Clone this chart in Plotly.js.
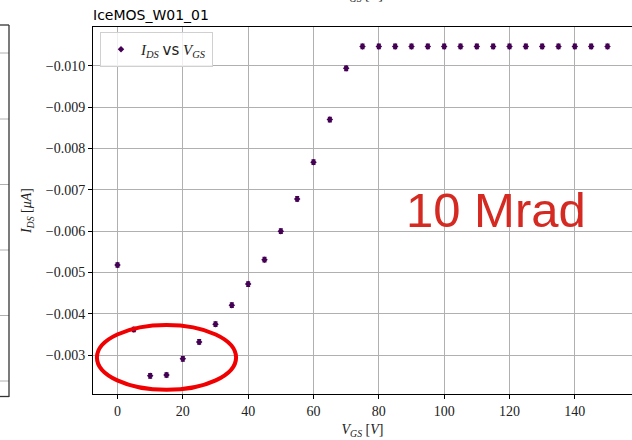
<!DOCTYPE html>
<html>
<head>
<meta charset="utf-8">
<script src="https://cdn.plot.ly/plotly-3.0.1.min.js"></script>
<style>html,body{margin:0;padding:0;background:#fff;}#chart{width:632px;height:440px;}</style>
</head>
<body>
<div id="chart"></div>
<script>
// V_GS values [V]
const vgs = [0, 5, 10, 15, 20, 25, 30, 35, 40, 45, 50, 55, 60, 65, 70,
             75, 80, 85, 90, 95, 100, 105, 110, 115, 120, 125, 130, 135, 140, 145, 150];
// I_DS values [uA]
const ids = [-0.00518, -0.00362, -0.00250, -0.00252, -0.00291, -0.00332, -0.00375, -0.00421,
             -0.00472, -0.00531, -0.00600, -0.00678, -0.00767, -0.00870, -0.00994,
             -0.01047, -0.01047, -0.01047, -0.01047, -0.01047, -0.01047, -0.01047, -0.01047,
             -0.01047, -0.01047, -0.01047, -0.01047, -0.01047, -0.01047, -0.01047, -0.01047];
// I_DS uncertainty [uA]
const idsErr = [0.00005, 0.00005, 0.00005, 0.00005, 0.00005, 0.00005, 0.00005, 0.00005,
                0.00005, 0.00005, 0.00005, 0.00005, 0.00005, 0.00005, 0.00005,
                0.00005, 0.00005, 0.00005, 0.00005, 0.00005, 0.00005, 0.00005, 0.00005,
                0.00005, 0.00005, 0.00005, 0.00005, 0.00005, 0.00005, 0.00005, 0.00005];
const xTicks = [0, 20, 40, 60, 80, 100, 120, 140];
const yTicks = [-0.010, -0.009, -0.008, -0.007, -0.006, -0.005, -0.004, -0.003];

const purple = '#440154';
const serif = 'Liberation Serif, serif';
const sans = 'DejaVu Sans, sans-serif';

const trace = {
  x: vgs, y: ids, type: 'scatter', mode: 'markers',
  name: '<i>I</i><sub><i>DS</i></sub> <span style="font-family:DejaVu Sans">vs</span> <i>V</i><sub><i>GS</i></sub>',
  marker: {symbol: 'diamond', size: 5, color: purple},
  error_y: {type: 'data', array: idsErr, visible: true, color: purple, thickness: 1.5, width: 2}
};

function py(p) { return (394 - p) / 367; }
function px(p) { return (p - 93) / 539; }

const gray = '#b0b0b0';
const shapes = [
  // red ellipse highlight
  {type: 'circle', xref: 'x', yref: 'y', x0: -6.3, x1: 36.3, y0: -0.00373, y1: -0.00216,
   line: {color: '#f00000', width: 4}, layer: 'above'},
];
// neighbouring panel fragment on the left edge
[53, 119, 184.5, 250, 315.5, 381].forEach(p => {
  shapes.push({type: 'line', xref: 'paper', yref: 'paper', x0: px(0), x1: px(9), y0: py(p), y1: py(p),
               line: {color: gray, width: 1}});
});
shapes.push({type: 'line', xref: 'paper', yref: 'paper', x0: px(9), x1: px(9), y0: py(25), y1: py(397),
             line: {color: '#333', width: 1.3}});
shapes.push({type: 'line', xref: 'paper', yref: 'paper', x0: px(0), x1: px(9), y0: py(25), y1: py(25),
             line: {color: '#333', width: 1.3}});
shapes.push({type: 'line', xref: 'paper', yref: 'paper', x0: px(0), x1: px(9), y0: py(396.5), y1: py(396.5),
             line: {color: '#333', width: 1.3}});

const layout = {
  width: 632, height: 440,
  margin: {l: 93, r: 0, t: 27, b: 46},
  paper_bgcolor: '#fff', plot_bgcolor: '#fff',
  showlegend: true,
  title: {text: 'IceMOS_W01_01', font: {family: sans, size: 14, color: '#000'},
          x: 93/632, xanchor: 'left', xref: 'container', y: 1 - 15/440, yanchor: 'middle', yref: 'container'},
  xaxis: {
    range: [-7.5, 157.5], tickvals: xTicks, ticktext: xTicks.map(String),
    showgrid: true, gridcolor: gray, gridwidth: 1, zeroline: false,
    showline: true, mirror: true, linecolor: '#000', linewidth: 1,
    ticks: 'outside', ticklen: 4, tickcolor: '#000', tickwidth: 1,
    tickfont: {family: serif, size: 14, color: '#222'},
    title: {text: '<i>V</i><sub><i>GS</i></sub> [<i>V</i>]', font: {family: serif, size: 14, color: '#222'}, standoff: 6}
  },
  yaxis: {
    range: [-0.00206, -0.01094], tickvals: yTicks, tickformat: '.3f',
    showgrid: true, gridcolor: gray, gridwidth: 1, zeroline: false,
    showline: true, mirror: true, linecolor: '#000', linewidth: 1,
    ticks: 'outside', ticklen: 4, tickcolor: '#000', tickwidth: 1,
    tickfont: {family: serif, size: 14, color: '#222'},
    title: {text: '<i>I</i><sub><i>DS</i></sub> [<i>μA</i>]', font: {family: serif, size: 14, color: '#222'}, standoff: 10}
  },
  legend: {x: px(100), y: py(32), xanchor: 'left', yanchor: 'top',
           bgcolor: 'rgba(255,255,255,0.8)', bordercolor: '#d0d0d0', borderwidth: 1,
           font: {family: serif, size: 15, color: '#222'}},
  shapes: shapes,
  annotations: [
    {text: '10 Mrad', xref: 'x', yref: 'y', x: 115.9, y: -0.00652, xanchor: 'center', yanchor: 'middle',
     showarrow: false, font: {family: 'Liberation Sans, sans-serif', size: 49, color: '#d42a22'}},
    {text: '<i>V</i><sub><i>GS</i></sub> [<i>V</i>]', xref: 'paper', yref: 'paper', x: px(362), y: py(-5),
     xanchor: 'center', yanchor: 'middle', showarrow: false, font: {family: serif, size: 14, color: '#222'}}
  ]
};

Plotly.newPlot('chart', [trace], layout, {staticPlot: true, displayModeBar: false});
</script>
</body>
</html>
